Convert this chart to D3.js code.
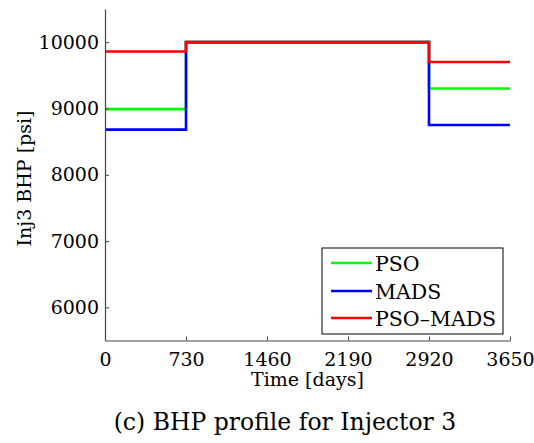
<!DOCTYPE html>
<html><head><meta charset="utf-8">
<script src="https://cdn.jsdelivr.net/npm/d3@7"></script>
<style>body{margin:0;background:#fff}svg{display:block}text{font-family:"DejaVu Serif","Liberation Serif",serif;fill:#000}</style>
</head><body><svg id="c" width="534" height="443"></svg>
<script>
const times = [0, 730, 2920, 3650];
const pso = [8990, 10000, 9300, 9300];
const mads = [8680, 10000, 8750, 8750];
const psoMads = [9860, 10000, 9700, 9700];
const seriesNames = ["PSO", "MADS", "PSO\u2013MADS"];
const seriesColors = ["#00ff00", "#0000ff", "#ff0000"];
const xTicks = [0, 730, 1460, 2190, 2920, 3650];
const yTicks = [6000, 7000, 8000, 9000, 10000];

const FONT = '"DejaVu Serif","Liberation Serif",serif';
const svg = d3.select("#c");
const x = d3.scaleLinear().domain([0, 3650]).range([105, 510]);
const y = d3.scaleLinear().domain([5500, 10500]).range([340.5, 9]);
const fs = 19;

const series = [pso, mads, psoMads];
const line = d3.line().x(d => x(d[0])).y(d => y(d[1])).curve(d3.curveStepAfter);
series.forEach((vals, i) => {
  svg.append("path").datum(times.map((t, j) => [t, vals[j]]))
    .attr("d", line).attr("fill", "none").attr("stroke", seriesColors[i]).attr("stroke-width", 2.6);
});

// axes
const ax = svg.append("g").attr("transform", "translate(0,340.5)")
  .call(d3.axisBottom(x).tickValues(xTicks).tickSize(-4).tickSizeOuter(0).tickPadding(10).tickFormat(d3.format("d")));
const ay = svg.append("g").attr("transform", "translate(105,0)")
  .call(d3.axisLeft(y).tickValues(yTicks).tickSize(-4).tickSizeOuter(0).tickPadding(6).tickFormat(d3.format("d")));
[ax, ay].forEach(g => {
  g.attr("font-family", FONT).attr("font-size", fs);
  g.select(".domain").attr("stroke", "#444").attr("stroke-width", 1.2);
  g.selectAll(".tick line").attr("stroke", "#444");
  g.selectAll("text").attr("fill", "#000");
});
ax.selectAll(".tick text").attr("dy", "0.71em").attr("y", 12);

svg.append("text").attr("x", 307.5).attr("y", 386).attr("text-anchor", "middle")
  .attr("font-size", fs).text("Time [days]");
svg.append("text").attr("transform", "translate(31,178.5) rotate(-90)").attr("text-anchor", "middle")
  .attr("font-size", fs).text("Inj3 BHP [psi]");
svg.append("text").attr("x", 285).attr("y", 430).attr("text-anchor", "middle")
  .attr("font-size", 23.5).text("(c) BHP profile for Injector 3");

// legend
const lg = svg.append("g");
lg.append("rect").attr("x", 322).attr("y", 248).attr("width", 181).attr("height", 86)
  .attr("fill", "#fff").attr("stroke", "#000").attr("stroke-width", 1);
const rowsY = [263, 291, 318];
seriesNames.forEach((n, i) => {
  lg.append("line").attr("x1", 331).attr("x2", 372).attr("y1", rowsY[i]).attr("y2", rowsY[i])
    .attr("stroke", seriesColors[i]).attr("stroke-width", 2.6);
  lg.append("text").attr("x", 375).attr("y", rowsY[i] + 7.5).attr("font-size", 20.5).text(n);
});
</script></body></html>
